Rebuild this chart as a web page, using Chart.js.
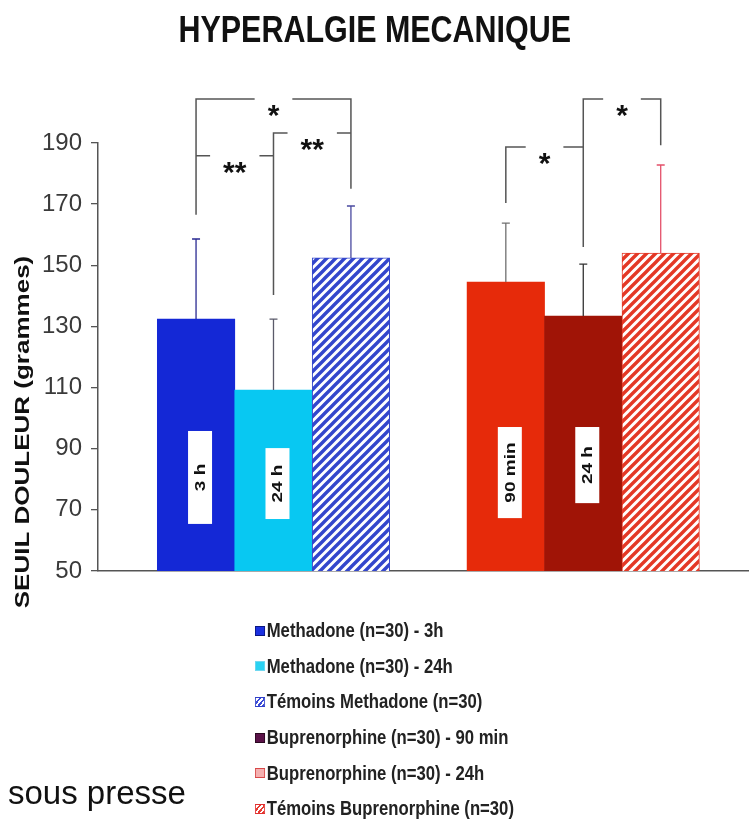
<!DOCTYPE html>
<html>
<head>
<meta charset="utf-8">
<script src="https://cdn.jsdelivr.net/npm/chart.js@4.4.1/dist/chart.umd.min.js"></script>
<style>
  body { margin: 0; background: #fff; }
  #wrap { position: relative; width: 749px; height: 825px; }
  #title { position: absolute; left: 0; top: 11px; width: 749px; text-align: center; font: bold 37px 'Liberation Sans', Arial, sans-serif; line-height: 37px; color: #111; transform: scaleX(0.823); transform-origin: 376px 0; }
  #legend { position: absolute; left: 255px; top: 613px; font: bold 20px 'Liberation Sans', Arial, sans-serif; color: #222; transform: scaleX(0.835); transform-origin: 0 0; white-space: nowrap; }
  #legend .row { height: 35.6px; display: flex; align-items: center; }
  #legend .sw { width: 12px; height: 10px; box-sizing: border-box; border: 1px solid; margin-right: 2px; }
  #note { position: absolute; left: 8px; top: 776px; font: 33px 'Liberation Sans', Arial, sans-serif; line-height: 33px; color: #111; }
</style>
</head>
<body>
<div id="wrap">
  <canvas id="chart" width="749" height="825"></canvas>
  <div id="title">HYPERALGIE MECANIQUE</div>
  <div id="legend"></div>
  <div id="note">sous presse</div>
</div>
<script>
// bars, left to right (slot 4 is the gap between the two groups)
const barNames = ['Methadone (n=30) - 3h', 'Methadone (n=30) - 24h', 'Témoins Methadone (n=30)',
                  'Buprenorphine (n=30) - 90 min', 'Buprenorphine (n=30) - 24h', 'Témoins Buprenorphine (n=30)'];
const barSlots = [1, 2, 3, 5, 6, 7];
const barValues = [132.4, 109.2, 152.4, 144.5, 133.4, 154.0];
const barErrors = [26.2, 23.2, 17.0, 19.3, 17.0, 28.8];
const barTags = ['3 h', '24 h', '', '90 min', '24 h', ''];
const tagTop = [95.8, 90.2, null, 97.1, 97.1, null];
const tagBottom = [65.4, 67.0, null, 67.3, 72.2, null];

const yTicks = [50, 70, 90, 110, 130, 150, 170, 190];

// significance brackets
const bracketFrom = [1, 1, 2, 5, 6];
const bracketTo = [3, 2, 3, 6, 7];
const bracketLevel = [204.4, 185.8, 193.3, 188.7, 204.4];
const bracketFromEnd = [166.5, 185.8, 140.3, 170.4, 156.0];
const bracketToEnd = [175.0, 185.8, 193.3, 188.7, 189.3];
const bracketStars = ['*', '**', '**', '*', '*'];

const legendNames = ['Methadone (n=30) - 3h', 'Methadone (n=30) - 24h', 'Témoins Methadone (n=30)',
                     'Buprenorphine (n=30) - 90 min', 'Buprenorphine (n=30) - 24h', 'Témoins Buprenorphine (n=30)'];

function hatch(stripe) {
  const s = 9;
  const c = document.createElement('canvas');
  c.width = s; c.height = s;
  const g = c.getContext('2d');
  g.fillStyle = '#fff';
  g.fillRect(0, 0, s, s);
  g.strokeStyle = stripe;
  g.lineWidth = 3.4;
  g.beginPath();
  g.moveTo(-2, 2); g.lineTo(2, -2);
  g.moveTo(0, s); g.lineTo(s, 0);
  g.moveTo(s - 2, s + 2); g.lineTo(s + 2, s - 2);
  g.stroke();
  return document.getElementById('chart').getContext('2d').createPattern(c, 'repeat');
}

const fillColors = ['#1428d6', '#08c8f2', hatch('#3346cc'), '#e62a0a', '#a01406', hatch('#e43826')];
const edgeColors = ['#1428d6', '#08c8f2', '#3346cc', '#e62a0a', '#a01406', '#e43826'];
const errorColors = ['#2a2a92', '#5a5a6a', '#4a4aa0', '#707070', '#333333', '#e4506a'];
const swatchStyles = [
  'background:#1a30e0;border-color:#0a1680',
  'background:#2ad2f2;border-color:#70d8f0',
  'background:repeating-linear-gradient(-45deg,#3a4ad8 0 2px,#fff 2px 4px);border-color:#3040c8',
  'background:#5a1248;border-color:#2a0820',
  'background:#f4b0b0;border-color:#d84848',
  'background:repeating-linear-gradient(-45deg,#e83a30 0 2px,#fff 2px 4px);border-color:#e03030'
];

const plain = "'Liberation Sans', Arial, sans-serif";

const extras = {
  id: 'extras',
  afterDatasetsDraw(chart) {
    const { ctx, scales: { x, y } } = chart;
    const bars = chart.getDatasetMeta(0).data;
    ctx.save();
    // error bars, upward only
    bars.forEach((bar, i) => {
      const top = y.getPixelForValue(barValues[i] + barErrors[i]);
      ctx.strokeStyle = errorColors[i];
      ctx.lineWidth = 1.3;
      ctx.beginPath();
      ctx.moveTo(bar.x, bar.y);
      ctx.lineTo(bar.x, top);
      ctx.moveTo(bar.x - 4, top);
      ctx.lineTo(bar.x + 4, top);
      ctx.stroke();
    });
    // white tags inside bars
    bars.forEach((bar, i) => {
      if (!barTags[i]) return;
      const y1 = y.getPixelForValue(tagTop[i]);
      const y2 = y.getPixelForValue(tagBottom[i]);
      const cx = bar.x + 4;
      ctx.fillStyle = '#fff';
      ctx.fillRect(cx - 12, y1, 24, y2 - y1);
      ctx.save();
      ctx.translate(cx, (y1 + y2) / 2);
      ctx.scale(0.76, 1);
      ctx.rotate(-Math.PI / 2);
      ctx.font = 'bold 19px ' + plain;
      ctx.fillStyle = '#111';
      ctx.textAlign = 'center';
      ctx.textBaseline = 'middle';
      ctx.fillText(barTags[i], 0, 1);
      ctx.restore();
    });
    // significance brackets
    ctx.strokeStyle = '#555';
    ctx.lineWidth = 1.5;
    ctx.font = 'bold 30px ' + plain;
    ctx.textAlign = 'center';
    ctx.textBaseline = 'alphabetic';
    bracketFrom.forEach((a, i) => {
      const xa = x.getPixelForValue(a);
      const xb = x.getPixelForValue(bracketTo[i]);
      const ly = y.getPixelForValue(bracketLevel[i]);
      const mid = (xa + xb) / 2;
      const gap = ctx.measureText(bracketStars[i]).width + 26;
      ctx.beginPath();
      ctx.moveTo(xa, y.getPixelForValue(bracketFromEnd[i]));
      ctx.lineTo(xa, ly);
      ctx.lineTo(mid - gap / 2, ly);
      ctx.moveTo(mid + gap / 2, ly);
      ctx.lineTo(xb, ly);
      ctx.lineTo(xb, y.getPixelForValue(bracketToEnd[i]));
      ctx.stroke();
      ctx.fillStyle = '#111';
      ctx.fillText(bracketStars[i], mid, ly + 26);
    });
    ctx.restore();
  },
  afterDraw(chart) {
    const ctx = chart.ctx;
    const y = chart.scales.y;
    ctx.save();
    ctx.translate(24, (y.top + y.bottom) / 2 + 75);
    ctx.scale(0.76, 1);
    ctx.rotate(-Math.PI / 2);
    ctx.font = 'bold 26px ' + plain;
    ctx.fillStyle = '#111';
    ctx.textAlign = 'center';
    ctx.textBaseline = 'middle';
    ctx.fillText('SEUIL DOULEUR (grammes)', 0, 0);
    ctx.restore();
  }
};

new Chart(document.getElementById('chart'), {
  type: 'bar',
  data: {
    datasets: [{
      label: 'SEUIL DOULEUR (grammes)',
      data: barSlots.map((s, i) => ({ x: s, y: barValues[i] })),
      backgroundColor: fillColors,
      borderColor: edgeColors,
      borderWidth: [0, 0, 1, 0, 0, 1],
      borderSkipped: false,
      barPercentage: 1,
      categoryPercentage: 1
    }]
  },
  options: {
    responsive: false,
    animation: false,
    devicePixelRatio: 1,
    layout: { padding: { top: 143, left: 0, right: 0, bottom: 0 } },
    plugins: {
      legend: { display: false },
      tooltip: { enabled: false },
      title: { display: false }
    },
    scales: {
      x: {
        type: 'linear',
        offset: false,
        min: -0.266,
        max: 8.14,
        ticks: { display: false },
        grid: { display: false },
        border: { display: true, color: '#555', width: 1.5 },
        afterFit(scale) { scale.height = 254; }
      },
      y: {
        min: 50,
        max: 190,
        afterBuildTicks(scale) { scale.ticks = yTicks.map(v => ({ value: v })); },
        ticks: { color: '#3a3a3a', padding: 9, font: { family: plain, size: 24 } },
        grid: { drawOnChartArea: false, tickLength: 7, color: '#555', lineWidth: 1.3 },
        border: { display: true, color: '#555', width: 1.5 },
        afterFit(scale) { scale.width = 98; }
      }
    }
  },
  plugins: [extras]
});

const legend = document.getElementById('legend');
legendNames.forEach((name, i) => {
  const row = document.createElement('div');
  row.className = 'row';
  const sw = document.createElement('span');
  sw.className = 'sw';
  sw.style.cssText = swatchStyles[i];
  const txt = document.createElement('span');
  txt.textContent = name;
  row.appendChild(sw);
  row.appendChild(txt);
  legend.appendChild(row);
});
</script>
</body>
</html>
